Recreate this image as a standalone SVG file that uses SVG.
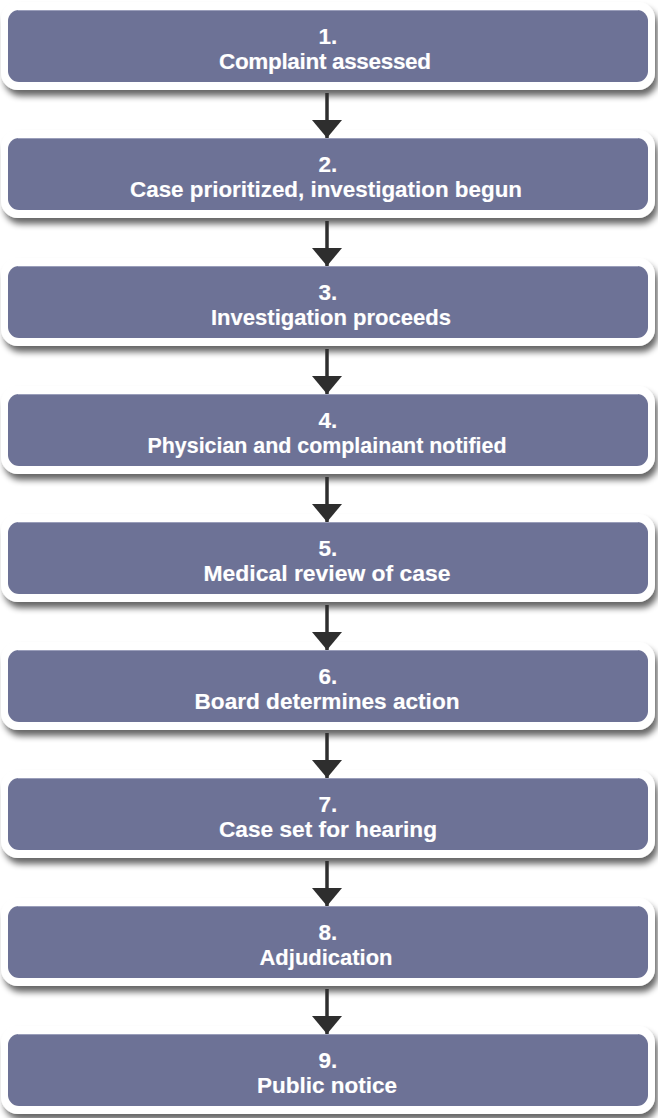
<svg xmlns="http://www.w3.org/2000/svg" width="658" height="1118" viewBox="0 0 658 1118">
<defs>
<filter id="sh" x="-5%" y="-20%" width="112%" height="150%">
<feGaussianBlur in="SourceAlpha" stdDeviation="3"/>
<feOffset dx="3" dy="6" result="b"/>
<feComponentTransfer><feFuncA type="linear" slope="0.6"/></feComponentTransfer>
<feMerge><feMergeNode/><feMergeNode in="SourceGraphic"/></feMerge>
</filter>
<marker id="ah" viewBox="0 0 18 30" refX="18" refY="15" markerWidth="18" markerHeight="30" markerUnits="userSpaceOnUse" orient="auto">
<path d="M0,0 L18,15 L0,30 Z" fill="#2e2e2e"/>
</marker>
<g id="box">
<rect x="1" y="-8" width="654" height="88" rx="17" fill="#ffffff" filter="url(#sh)"/>
<rect x="8" y="0" width="640" height="72" rx="11" fill="#6d7296"/>
<path d="M18,0.5 H638" stroke="#9a9eba" stroke-width="1"/>
</g>
</defs>
<style>
.t{font-family:"Liberation Sans",Arial,sans-serif;font-weight:bold;font-size:22.5px;fill:#ffffff;stroke:#ffffff;stroke-width:0.15;text-anchor:middle}
</style>
<g id="node1" transform="translate(0,10)"><use href="#box"/><text class="t" x="328" y="34">1.</text><text class="t" x="325" y="59" textLength="212" lengthAdjust="spacing">Complaint assessed</text></g>
<g id="node2" transform="translate(0,138)"><use href="#box"/><text class="t" x="328" y="34">2.</text><text class="t" x="326" y="59" textLength="392" lengthAdjust="spacingAndGlyphs">Case prioritized, investigation begun</text></g>
<g id="node3" transform="translate(0,266)"><use href="#box"/><text class="t" x="328" y="34">3.</text><text class="t" x="331" y="59" textLength="240" lengthAdjust="spacingAndGlyphs">Investigation proceeds</text></g>
<g id="node4" transform="translate(0,394)"><use href="#box"/><text class="t" x="328" y="34">4.</text><text class="t" x="327" y="59" textLength="359" lengthAdjust="spacingAndGlyphs">Physician and complainant notified</text></g>
<g id="node5" transform="translate(0,522)"><use href="#box"/><text class="t" x="328" y="34">5.</text><text class="t" x="327" y="59" textLength="247" lengthAdjust="spacingAndGlyphs">Medical review of case</text></g>
<g id="node6" transform="translate(0,650)"><use href="#box"/><text class="t" x="328" y="34">6.</text><text class="t" x="327" y="59" textLength="265" lengthAdjust="spacingAndGlyphs">Board determines action</text></g>
<g id="node7" transform="translate(0,778)"><use href="#box"/><text class="t" x="328" y="34">7.</text><text class="t" x="328" y="59" textLength="218" lengthAdjust="spacingAndGlyphs">Case set for hearing</text></g>
<g id="node8" transform="translate(0,906)"><use href="#box"/><text class="t" x="328" y="34">8.</text><text class="t" x="326" y="59" textLength="133" lengthAdjust="spacingAndGlyphs">Adjudication</text></g>
<g id="node9" transform="translate(0,1034)"><use href="#box"/><text class="t" x="328" y="34">9.</text><text class="t" x="327" y="59" textLength="140" lengthAdjust="spacingAndGlyphs">Public notice</text></g>
<g id="connectors" stroke="#2e2e2e" stroke-width="3.5" marker-end="url(#ah)">
<line x1="327" y1="93" x2="327" y2="138"/>
<line x1="327" y1="221" x2="327" y2="266"/>
<line x1="327" y1="349" x2="327" y2="394"/>
<line x1="327" y1="477" x2="327" y2="522"/>
<line x1="327" y1="605" x2="327" y2="650"/>
<line x1="327" y1="733" x2="327" y2="778"/>
<line x1="327" y1="861" x2="327" y2="906"/>
<line x1="327" y1="989" x2="327" y2="1034"/>
</g>
</svg>
